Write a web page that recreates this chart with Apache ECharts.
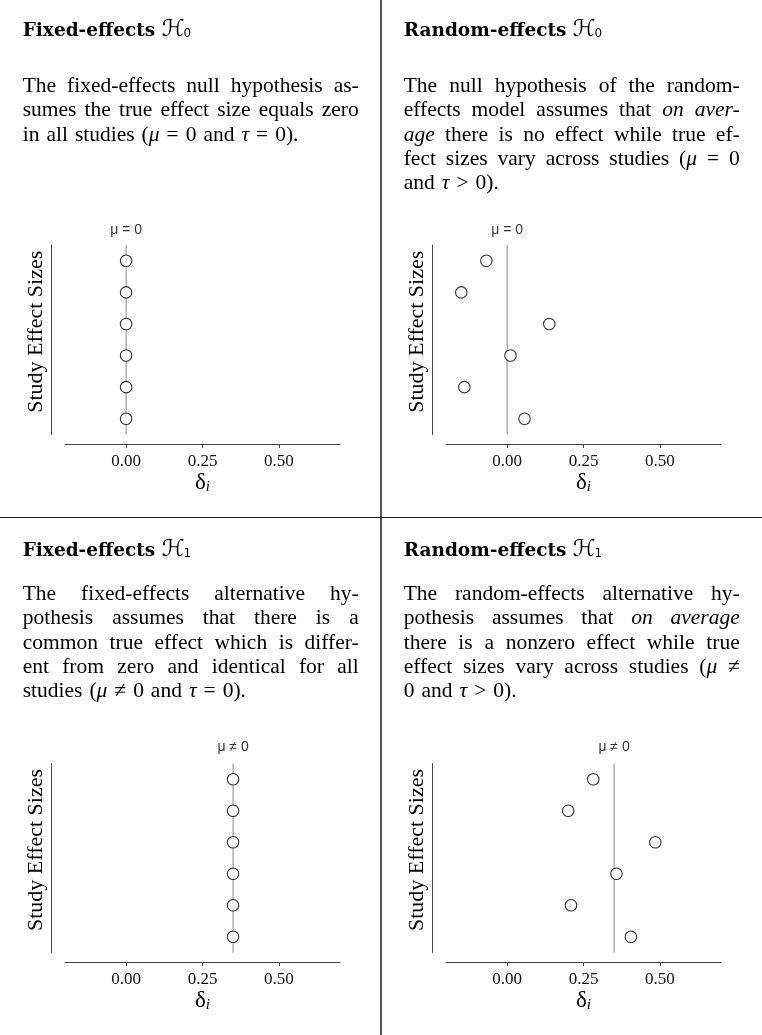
<!DOCTYPE html>
<html>
<head>
<meta charset="utf-8">
<script src="https://cdn.jsdelivr.net/npm/echarts@6/dist/echarts.min.js"></script>
<style>
html,body{margin:0;padding:0;background:#fff;}
#c{width:762px;height:1035px;}
</style>
</head>
<body>
<div id="c"></div>
<script>
// ---------------- DATA ----------------
const studyIds = [1, 2, 3, 4, 5, 6];
const fixedH0 = [0, 0, 0, 0, 0, 0];
const randomH0 = [-0.068, -0.150, 0.138, 0.011, -0.140, 0.057];
const fixedH1 = [0.35, 0.35, 0.35, 0.35, 0.35, 0.35];
const randomH1 = [0.282, 0.200, 0.485, 0.358, 0.209, 0.405];
const muValues = [0, 0, 0.35, 0.35];
const muLabels = ['μ = 0', 'μ = 0', 'μ ≠ 0', 'μ ≠ 0'];
const xTicks = [0, 0.25, 0.5];
const xRange = [-0.2, 0.7];
const yRange = [0.5, 6.5];
const yAxisName = 'Study Effect Sizes';
const titles = ['Fixed-effects', 'Random-effects', 'Fixed-effects', 'Random-effects'];
const titleSubs = ['0', '0', '1', '1'];
const paragraphs = [
  ['The fixed-effects null hypothesis as-',
   'sumes the true effect size equals zero',
   'in all studies (_μ_ = 0 and _τ_ = 0).'],
  ['The null hypothesis of the random-',
   'effects model assumes that _on aver-_',
   '_age_ there is no effect while true ef-',
   'fect sizes vary across studies (_μ_ = 0',
   'and _τ_ > 0).'],
  ['The fixed-effects alternative hy-',
   'pothesis assumes that there is a',
   'common true effect which is differ-',
   'ent from zero and identical for all',
   'studies (_μ_ ≠ 0 and _τ_ = 0).'],
  ['The random-effects alternative hy-',
   'pothesis assumes that _on average_',
   'there is a nonzero effect while true',
   'effect sizes vary across studies (_μ_ ≠',
   '0 and _τ_ > 0).']
];
const effects = [fixedH0, randomH0, fixedH1, randomH1];

// ---------------- LAYOUT ----------------
const panels = [
  {ox: 0,   row: 0},
  {ox: 381, row: 0},
  {ox: 0,   row: 1},
  {ox: 381, row: 1}
];
const rows = [
  {titleBase: 37, bodyBase: 93, gridTop: 245, gridH: 189.5, xOff: 9.5, labelDist: 7.5},
  {titleBase: 557, bodyBase: 601, gridTop: 763.5, gridH: 189, xOff: 9.5, labelDist: 9}
];
const TEXT_X = 22.7, TEXT_W = 336, LINE_H = 24.2;
const BODY_FS = 21.5;
const SERIF = '"Liberation Serif", "Times New Roman", serif';
const fontN = BODY_FS + 'px ' + SERIF;
const fontI = 'italic ' + BODY_FS + 'px ' + SERIF;
const TITLE_FS = 18.5;
const TITLE_FONT = 'bold ' + TITLE_FS + 'px "DejaVu Serif", serif';
const SCRIPT_FONT = '23px "DejaVu Sans", "DejaVu Serif", serif';
const SUB_FONT = '12px "DejaVu Sans", sans-serif';

const mctx = document.createElement('canvas').getContext('2d');
function tw(t, font) { mctx.font = font; return mctx.measureText(t).width; }

function parseLine(line) {
  const words = []; let cur = [], buf = '', it = false;
  for (const ch of line) {
    if (ch === '_') { if (buf) { cur.push({t: buf, it}); buf = ''; } it = !it; }
    else if (ch === ' ') { if (buf) { cur.push({t: buf, it}); buf = ''; } if (cur.length) { words.push(cur); cur = []; } }
    else buf += ch;
  }
  if (buf) cur.push({t: buf, it});
  if (cur.length) words.push(cur);
  return words;
}

function paragraphElements(lines, x0, base0) {
  const els = [];
  lines.forEach((line, li) => {
    const words = parseLine(line);
    const ws = words.map(w => w.reduce((s, sg) => s + tw(sg.t, sg.it ? fontI : fontN), 0));
    const total = ws.reduce((a, b) => a + b, 0);
    const last = li === lines.length - 1;
    const gap = (last || words.length < 2) ? tw(' ', fontN) * 1.3 : (TEXT_W - total) / (words.length - 1);
    let x = x0;
    const y = base0 + li * LINE_H - BODY_FS * 0.3;
    words.forEach((w, wi) => {
      let sx = x;
      w.forEach(sg => {
        const f = sg.it ? fontI : fontN;
        els.push({type: 'text', x: sx, y: y, silent: true,
          style: {text: sg.t, font: f, fill: '#000', align: 'left', verticalAlign: 'middle'}});
        sx += tw(sg.t, f);
      });
      x += ws[wi] + gap;
    });
  });
  return els;
}

function titleElements(title, sub, x0, base) {
  const els = [];
  const t = title + ' ';
  const y = base - TITLE_FS * 0.3;
  els.push({type: 'text', x: x0, y: y, silent: true, style: {text: t, font: TITLE_FONT, fill: '#000', verticalAlign: 'middle'}});
  const x1 = x0 + tw(t, TITLE_FONT);
  els.push({type: 'text', x: x1, y: y - 1, silent: true, style: {text: 'ℋ', font: SCRIPT_FONT, fill: '#000', verticalAlign: 'middle'}});
  const x2 = x1 + tw('ℋ', SCRIPT_FONT) - 1;
  els.push({type: 'text', x: x2, y: base - 3, silent: true, style: {text: sub, font: SUB_FONT, fill: '#000', verticalAlign: 'middle'}});
  return els;
}

const grids = [], xAxes = [], yAxes = [], series = [];
let graphics = [];

panels.forEach((p, i) => {
  const r = rows[p.row];
  grids.push({left: p.ox + 65, top: r.gridTop, width: 275, height: r.gridH, outerBoundsMode: 'none', containLabel: false});
  xAxes.push({
    type: 'value', gridIndex: i, min: xRange[0], max: xRange[1], offset: r.xOff,
    axisLine: {show: true, onZero: false, lineStyle: {color: '#444', width: 1}},
    axisTick: {show: true, length: 4, inside: false, customValues: xTicks, lineStyle: {color: '#444', width: 1}},
    axisLabel: {show: true, customValues: xTicks, formatter: v => Number(v).toFixed(2), fontFamily: SERIF, fontSize: 17, color: '#111', margin: 9},
    splitLine: {show: false},
    name: '{d|δ}{s|i}', nameLocation: 'middle', nameGap: 27,
    nameTextStyle: {rich: {
      d: {fontFamily: SERIF, fontSize: 23, color: '#000'},
      s: {fontFamily: SERIF, fontSize: 15, fontStyle: 'italic', color: '#000', padding: [9, 0, 0, 0]}
    }}
  });
  yAxes.push({
    type: 'value', gridIndex: i, min: yRange[0], max: yRange[1], inverse: true, offset: 13.3,
    axisLine: {show: true, onZero: false, lineStyle: {color: '#444', width: 1}},
    axisTick: {show: false}, axisLabel: {show: false}, splitLine: {show: false},
    name: yAxisName, nameLocation: 'middle', nameRotate: 90, nameGap: 4,
    nameTextStyle: {fontFamily: SERIF, fontSize: 22, color: '#000', padding: [0, 0, 0, 16]}
  });
  series.push({
    type: 'line', xAxisIndex: i, yAxisIndex: i, z: 1, silent: true,
    symbol: 'none', lineStyle: {color: '#8a8a8a', width: 1},
    data: [[muValues[i], yRange[0]], [muValues[i], yRange[1]]]
  });
  series.push({
    type: 'scatter', xAxisIndex: i, yAxisIndex: i, z: 2, silent: true,
    symbolSize: 1, itemStyle: {color: 'rgba(0,0,0,0)'},
    label: {show: true, position: 'top', distance: r.labelDist, formatter: muLabels[i],
      fontFamily: '"Liberation Sans", Arial, sans-serif', fontSize: 14, color: '#000'},
    data: [[muValues[i], yRange[0]]]
  });
  series.push({
    type: 'scatter', xAxisIndex: i, yAxisIndex: i, z: 3, silent: true,
    symbol: 'circle', symbolSize: 11.5,
    itemStyle: {color: '#fff', borderColor: '#000', borderWidth: 1.1},
    data: effects[i].map((v, k) => [v, studyIds[k]])
  });
  graphics = graphics.concat(titleElements(titles[i], titleSubs[i], p.ox + TEXT_X, r.titleBase));
  graphics = graphics.concat(paragraphElements(paragraphs[i], p.ox + TEXT_X, r.bodyBase));
});

graphics.push({type: 'line', silent: true, shape: {x1: 381, y1: 0, x2: 381, y2: 1035}, style: {stroke: '#555', lineWidth: 2}});
graphics.push({type: 'line', silent: true, shape: {x1: 0, y1: 517.5, x2: 762, y2: 517.5}, style: {stroke: '#222', lineWidth: 1.2}});

const chart = echarts.init(document.getElementById('c'), null, {renderer: 'canvas', width: 762, height: 1035});
chart.setOption({
  animation: false,
  backgroundColor: '#fff',
  grid: grids, xAxis: xAxes, yAxis: yAxes, series: series,
  graphic: {elements: graphics}
});
</script>
</body>
</html>
